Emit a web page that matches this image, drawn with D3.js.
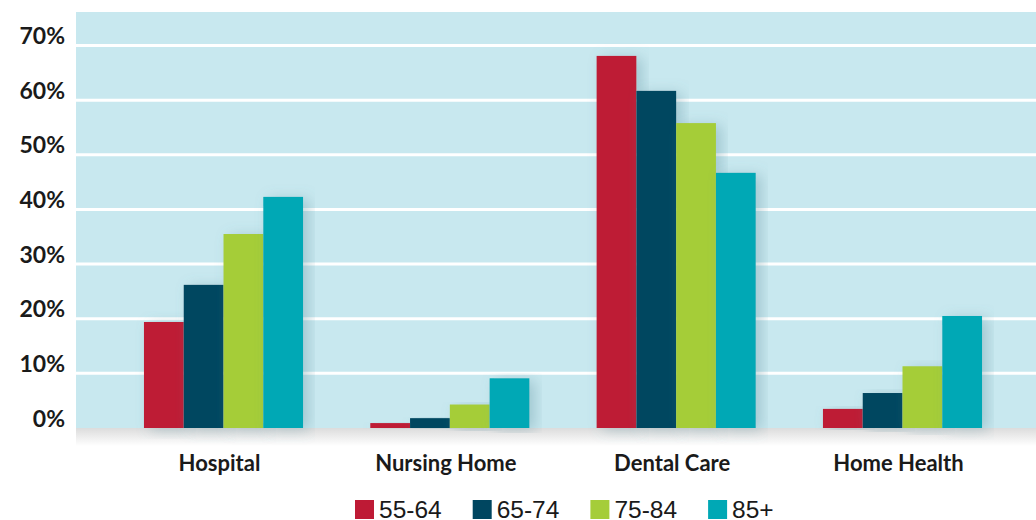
<!DOCTYPE html>
<html><head><meta charset="utf-8">
<script src="https://cdn.jsdelivr.net/npm/d3@7"></script>
<style>body{margin:0;background:#fff;} svg{display:block;}</style>
</head><body>
<svg id="chart" width="1036" height="520"></svg>
<script>
const categories = ["Hospital", "Nursing Home", "Dental Care", "Home Health"];
const seriesNames = ["55-64", "65-74", "75-84", "85+"];
const s5564 = [19.4, 0.9, 68.1, 3.5];
const s6574 = [26.2, 1.8, 61.7, 6.4];
const s7584 = [35.5, 4.3, 55.8, 11.3];
const s85 = [42.3, 9.1, 46.7, 20.5];
const yTicks = [0, 10, 20, 30, 40, 50, 60, 70];
const colors = ["#BE1A35", "#004660", "#A5CD39", "#00A8B5"];

(function(){
const series = [s5564, s6574, s7584, s85];
const svg = d3.select("#chart");
const defs = svg.append("defs");
const g1 = defs.append("linearGradient").attr("id","floor").attr("x1",0).attr("y1",0).attr("x2",0).attr("y2",1);
g1.append("stop").attr("offset","0%").attr("stop-color","#dcdcdc");
g1.append("stop").attr("offset","100%").attr("stop-color","#ffffff");
const f = defs.append("filter").attr("id","sh").attr("x","-30%").attr("y","-10%").attr("width","160%").attr("height","120%");
f.append("feDropShadow").attr("dx",6).attr("dy",2).attr("stdDeviation",7).attr("flood-color","#5a8a99").attr("flood-opacity",0.35);

const pL = 76, pR = 1036, pT = 12, pB = 428;
const y = d3.scaleLinear().domain([0, 70]).range([428, 45.5]);
const x0 = d3.scaleBand().domain(categories).range([110, 1016]).paddingInner(0.297).paddingOuter(0.15);
const x1 = d3.scaleBand().domain(seriesNames).range([0, x0.bandwidth()]);

svg.append("rect").attr("x", pL).attr("y", pB).attr("width", pR-pL).attr("height", 18).attr("fill","url(#floor)");
svg.append("rect").attr("x", pL).attr("y", pT).attr("width", pR-pL).attr("height", pB-pT).attr("fill","#C8E8EF");

svg.append("g").selectAll("line").data(yTicks.filter(d=>d>0)).join("line")
  .attr("x1", pL).attr("x2", pR)
  .attr("y1", d=>y(d)).attr("y2", d=>y(d))
  .attr("stroke","#fff").attr("stroke-width",3);

const gy = svg.append("g").attr("transform",`translate(65,-2)`)
  .call(d3.axisLeft(y).tickValues(yTicks).tickFormat(d=>d+"%").tickSize(0).tickPadding(0));
gy.select(".domain").remove();
gy.selectAll("text").attr("dy","0").attr("font-family","Lato, sans-serif").attr("font-weight","bold").attr("font-size","23px").attr("fill","#1a1a1a");

const groups = svg.append("g").selectAll("g").data(categories).join("g")
  .attr("transform", d=>`translate(${x0(d)},0)`);
groups.selectAll("rect").data((c,i)=>series.map((s,j)=>({name:seriesNames[j], v:s[i], j})))
  .join("rect")
  .attr("x", d=>x1(d.name)).attr("width", x1.bandwidth())
  .attr("y", d=>y(d.v)).attr("height", d=>y(0)-y(d.v))
  .attr("fill", d=>colors[d.j]).attr("filter","url(#sh)");

const gx = svg.append("g").attr("transform",`translate(-4,${pB})`)
  .call(d3.axisBottom(x0).tickSize(0).tickPadding(0));
gx.select(".domain").remove();
gx.selectAll("text").attr("dy","0").attr("y",43).attr("font-family","Lato, sans-serif").attr("font-weight","bold").attr("font-size","22px").attr("fill","#1a1a1a");

const lg = svg.append("g").selectAll("g").data(seriesNames).join("g")
  .attr("transform",(d,i)=>`translate(${355 + i*117.7},500)`);
lg.append("rect").attr("width",19).attr("height",19).attr("fill",(d,i)=>colors[i]);
lg.append("text").attr("x",24).attr("y",18).text(d=>d)
  .attr("font-family","'Liberation Sans', Arial, sans-serif").attr("font-size","24.5px").attr("fill","#1a1a1a");
})();
</script>
</body></html>
